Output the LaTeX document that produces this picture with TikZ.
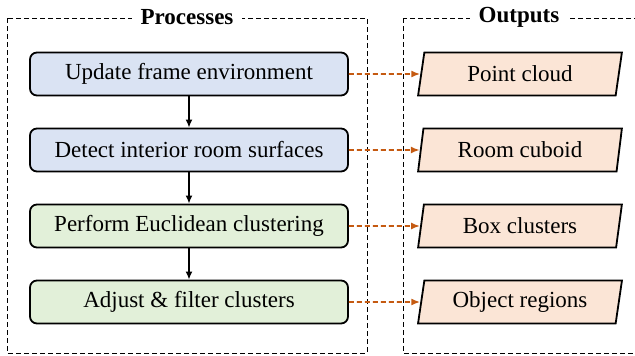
\documentclass[tikz,border=0pt]{standalone}
\usepackage{fontspec}
\setmainfont{Liberation Serif}
\usetikzlibrary{shapes.geometric,arrows.meta}
\definecolor{bluefill}{HTML}{DAE3F3}
\definecolor{greenfill}{HTML}{E2F0D9}
\definecolor{peachfill}{HTML}{FBE5D6}
\definecolor{orangeline}{HTML}{C55A11}
\tikzset{
  frame/.style={draw=black, line width=1pt, dash pattern=on 5pt off 3pt},
  ftitle/.style={fill=white, inner xsep=9pt, inner ysep=2pt, font=\fontsize{23}{26}\selectfont\bfseries},
  procbox/.style={draw=black, line width=1.8pt, rounded corners=7pt, minimum width=318pt, minimum height=43pt, inner sep=0pt, font=\fontsize{23}{26}\selectfont},
  outbox/.style={draw=black, line width=1.8pt, trapezium, trapezium left angle=78, trapezium right angle=102, trapezium stretches=true, minimum width=204pt, minimum height=43pt, inner sep=0pt, fill=peachfill, font=\fontsize{23}{26}\selectfont},
  flow/.style={draw=black, line width=1.8pt, -{Latex[length=8pt,width=7pt]}},
  outarrow/.style={draw=orangeline, line width=1.8pt, dash pattern=on 5pt off 3pt, -{Latex[length=9pt,width=7pt]}}
}
\begin{document}
\begin{tikzpicture}[x=1pt,y=-1pt]
\useasboundingbox (0,0) rectangle (635,356);
% frames
\coordinate (lf1) at (7,18);
\coordinate (lf2) at (367,353);
\coordinate (rf1) at (403,18);
\coordinate (rf2) at (638,353);
\draw[frame] (lf1) rectangle (lf2);
\draw[frame] (rf1) rectangle (rf2);
\node[ftitle] (tp) at (187,17) {Processes};
\node[ftitle] (to) at (519,17) {Outputs};
% process boxes
\node[procbox, fill=bluefill] (p1) at (189,74) {Update frame environment};
\node[procbox, fill=bluefill] (p2) at (189,150) {Detect interior room surfaces};
\node[procbox, fill=greenfill] (p3) at (189,226) {Perform Euclidean clustering};
\node[procbox, fill=greenfill] (p4) at (189,302) {Adjust \& filter clusters};
% outputs
\node[outbox] (o1) at (520,74) {Point cloud};
\node[outbox] (o2) at (520,150) {Room cuboid};
\node[outbox] (o3) at (520,226) {Box clusters};
\node[outbox] (o4) at (520,302) {Object regions};
% connectors
\draw[flow] (p1) -- (p2);
\draw[flow] (p2) -- (p3);
\draw[flow] (p3) -- (p4);
\draw[outarrow] (p1.east) -- (o1.west);
\draw[outarrow] (p2.east) -- (o2.west);
\draw[outarrow] (p3.east) -- (o3.west);
\draw[outarrow] (p4.east) -- (o4.west);
\end{tikzpicture}
\end{document}
